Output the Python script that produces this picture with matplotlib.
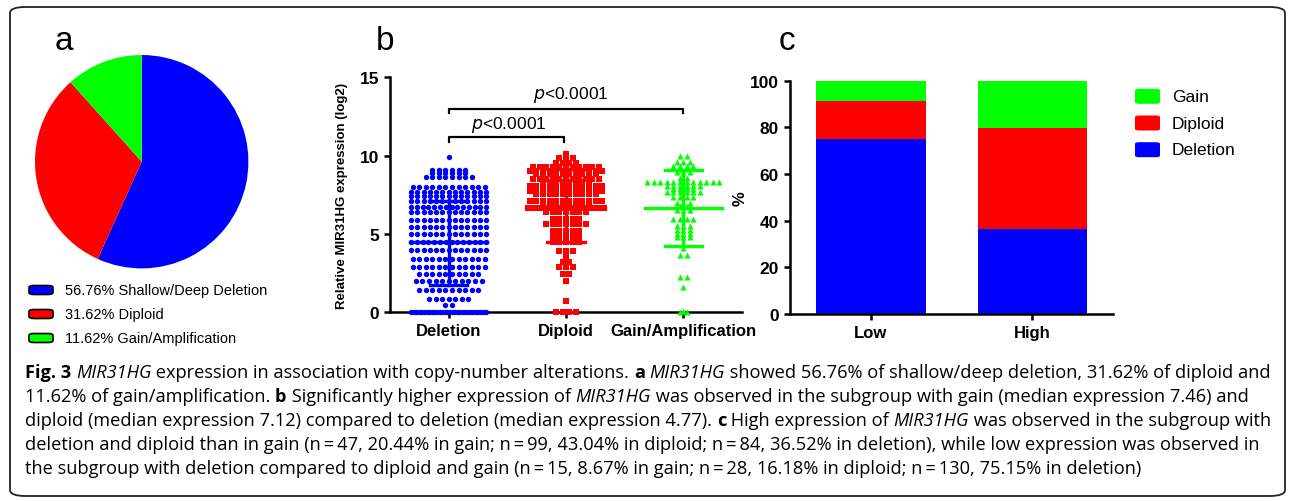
import numpy as np
import matplotlib.pyplot as plt
from matplotlib.patches import FancyBboxPatch

plt.rcParams['font.family'] = ['Liberation Sans', 'DejaVu Sans']

W, H = 1295, 502

# ---- panel a: copy-number share
pie_labels = ['56.76% Shallow/Deep Deletion', '31.62% Diploid', '11.62% Gain/Amplification']
pie_share = [56.76, 31.62, 11.62]

# ---- panel b: expression rows (value, number of dots)
groups = ['Deletion', 'Diploid', 'Gain/Amplification']
del_rows = [(9.94, 1), (9.1, 6), (8.9, 6), (8.62, 8), (8.0, 12), (7.7, 13), (7.4, 13),
            (7.13, 13), (6.72, 14), (6.4, 13), (5.9, 13), (5.45, 13), (5.0, 13),
            (4.5, 14), (3.95, 13), (3.4, 12), (2.9, 12), (2.45, 10), (2.0, 11),
            (1.45, 10), (0.88, 7), (0.47, 2), (0.0, 30)]
dip_rows = [(10.1, 1), (9.88, 3), (9.5, 4), (9.25, 11), (9.05, 12), (8.83, 10),
            (8.5, 11), (8.3, 8), (8.08, 12), (7.77, 12), (7.55, 10), (7.13, 12),
            (6.9, 8), (6.66, 14), (6.4, 7), (5.96, 5), (5.64, 7), (5.2, 5), (4.9, 5),
            (4.47, 5), (3.9, 3), (3.6, 1), (3.2, 2), (2.9, 3), (2.45, 2), (2.0, 1),
            (0.75, 1), (0.05, 4)]
gain_rows = [(9.96, 2), (9.57, 3), (9.36, 4), (9.15, 2), (8.94, 3), (8.6, 2), (8.3, 12),
             (8.08, 6), (7.9, 4), (7.66, 6), (7.34, 4), (7.0, 3), (6.8, 2), (6.55, 3),
             (5.95, 4), (5.53, 3), (5.25, 3), (5.0, 3), (4.78, 3), (4.08, 1), (3.66, 2),
             (2.23, 2), (1.6, 1), (0.1, 1), (0.0, 2)]
# lower quartile, median, upper quartile
del_q = (1.77, 4.47, 7.13)
dip_q = (4.47, 6.74, 9.15)
gain_q = (4.25, 6.68, 9.10)

# ---- panel c: percentages per expression level
levels = ['Low', 'High']
deletion_pct = [75.15, 36.52]
diploid_pct = [16.18, 43.04]
gain_pct = [8.67, 20.44]

BLUE, RED, GREEN = '#0000ff', '#ff0000', '#00ff00'


def box(l, t, r, b):
    return [l / W, 1 - b / H, (r - l) / W, (b - t) / H]


def swarm(rows, center, step=0.056, maxw=0.64):
    xs, ys = [], []
    for v, n in rows:
        s = step if n < 2 else min(step, maxw / (n - 1))
        xs.extend(center + (np.arange(n) - (n - 1) / 2) * s)
        ys.extend([v] * n)
    return np.array(xs), np.array(ys)


fig = plt.figure(figsize=(W / 100, H / 100), dpi=100)

# outer frame
fig.patches.append(FancyBboxPatch((10 / W, 1 - 497 / H), 1275 / W, 489 / H,
                                  boxstyle='round,pad=0,rounding_size=0.012',
                                  transform=fig.transFigure, fc='none',
                                  ec='#222222', lw=1.3))

# panel letters
for x, s in [(55, 'a'), (376, 'b'), (779, 'c')]:
    fig.text(x / W, 1 - 50 / H, s, fontsize=24, va='baseline')

# ---------- a
ax_a = fig.add_axes(box(35, 56, 248.4, 269.4))
ax_a.pie(pie_share, colors=[BLUE, RED, GREEN], startangle=90, counterclock=False,
         radius=1)
ax_a.set_xlim(-1, 1)
ax_a.set_ylim(-1, 1)
ax_a.set_aspect('auto')
for i, (lab, c) in enumerate(zip(pie_labels, [BLUE, RED, GREEN])):
    yc = 291 + 24 * i
    fig.patches.append(FancyBboxPatch((29 / W, 1 - (yc + 4.5) / H), 24 / W, 9 / H,
                                      boxstyle='round,pad=0,rounding_size=0.004',
                                      transform=fig.transFigure, fc=c, ec='black',
                                      lw=1.2))
    fig.text(65 / W, 1 - yc / H, lab, fontsize=10.5, va='center')

# ---------- b
ax_b = fig.add_axes(box(390, 78.3, 742, 313.3))
markers = ['o', 's', '^']
sizes = [15, 14, 19]
colors = [BLUE, RED, GREEN]
for i, (rows, q) in enumerate(zip([del_rows, dip_rows, gain_rows], [del_q, dip_q, gain_q])):
    xs, ys = swarm(rows, i)
    ax_b.scatter(xs, ys, marker=markers[i], s=sizes[i], color=colors[i],
                 linewidths=0, clip_on=False, zorder=3)
    ax_b.plot([i, i], [q[0], q[2]], color=colors[i], lw=2.4, zorder=4)
    ax_b.plot([i - 0.16, i + 0.16], [q[0]] * 2, color=colors[i], lw=2.4, zorder=4)
    ax_b.plot([i - 0.16, i + 0.16], [q[2]] * 2, color=colors[i], lw=2.4, zorder=4)
    ax_b.plot([i - 0.33, i + 0.33], [q[1]] * 2, color=colors[i], lw=2.4, zorder=4)

# significance brackets
ax_b.plot([0, 0, 2, 2], [12.72, 12.97, 12.97, 12.72], color='black', lw=1.6, clip_on=False)
ax_b.plot([0, 0, 0.98, 0.98], [10.85, 11.17, 11.17, 10.85], color='black', lw=1.6, clip_on=False)
ax_b.text(1.04, 13.94, r'$\it{p}$<0.0001', ha='center', va='center', fontsize=12.5)
ax_b.text(0.51, 12.0, r'$\it{p}$<0.0001', ha='center', va='center', fontsize=12.5)

ax_b.set_xlim(-0.5, 2.5)
ax_b.set_ylim(0, 15)
ax_b.set_yticks([0, 5, 10, 15])
ax_b.set_xticks(range(3))
ax_b.set_xticklabels(groups, fontsize=10.5, fontweight='bold')
ax_b.set_ylabel('Relative MIR31HG expression (log2)', fontsize=9.5, fontweight='bold')
ax_b.yaxis.set_label_coords((348 - 390) / 352, 0.5)

# ---------- c
ax_c = fig.add_axes(box(790, 81.7, 1113.3, 315))
xc = np.arange(len(levels))
ax_c.bar(xc, deletion_pct, width=0.68, color=BLUE)
ax_c.bar(xc, diploid_pct, width=0.68, bottom=deletion_pct, color=RED)
ax_c.bar(xc, gain_pct, width=0.68, bottom=np.add(deletion_pct, diploid_pct), color=GREEN)
ax_c.set_xlim(-0.5, 1.5)
ax_c.set_ylim(0, 100)
ax_c.set_yticks(range(0, 101, 20))
ax_c.set_xticks(xc)
ax_c.set_xticklabels(levels, fontsize=11.5, fontweight='bold')
ax_c.set_ylabel('%', fontsize=12, fontweight='bold')
ax_c.yaxis.set_label_coords((748 - 790) / 323.3, 0.5)

for i, (lab, c) in enumerate([('Gain', GREEN), ('Diploid', RED), ('Deletion', BLUE)]):
    yc = 97.3 + 26.7 * i
    fig.patches.append(FancyBboxPatch((1135 / W, 1 - (yc + 7.5) / H), 25 / W, 15 / H,
                                      boxstyle='round,pad=0,rounding_size=0.003',
                                      transform=fig.transFigure, fc=c, ec='none'))
    fig.text(1172 / W, 1 - yc / H, lab, fontsize=12.5, va='center')

for ax in (ax_b, ax_c):
    for side in ('top', 'right'):
        ax.spines[side].set_visible(False)
    for side in ('left', 'bottom'):
        ax.spines[side].set_linewidth(1.8)
    ax.tick_params(width=1.8, length=4.5, labelsize=12, direction='out')
    for t in ax.get_yticklabels():
        t.set_fontweight('bold')
        t.set_fontsize(12.5)

# ---------- caption
cap_lines = [
    [('Fig. 3', 'bold'), (' ', 'normal'), ('MIR31HG', 'italic'),
     (' expression in association with copy-number alterations. ', 'normal'), ('a', 'bold'),
     (' ', 'normal'), ('MIR31HG', 'italic'),
     (' showed 56.76% of shallow/deep deletion, 31.62% of diploid and', 'normal')],
    [('11.62% of gain/amplification. ', 'normal'), ('b', 'bold'),
     (' Significantly higher expression of ', 'normal'), ('MIR31HG', 'italic'),
     (' was observed in the subgroup with gain (median expression 7.46) and', 'normal')],
    [('diploid (median expression 7.12) compared to deletion (median expression 4.77). ', 'normal'),
     ('c', 'bold'), (' High expression of ', 'normal'), ('MIR31HG', 'italic'),
     (' was observed in the subgroup with', 'normal')],
    [('deletion and diploid than in gain (n\u2009=\u200947, 20.44% in gain; n\u2009=\u200999, 43.04% in diploid; '
      'n\u2009=\u200984, 36.52% in deletion), while low expression was observed in', 'normal')],
    [('the subgroup with deletion compared to diploid and gain (n\u2009=\u200915, 8.67% in gain; '
      'n\u2009=\u200928, 16.18% in diploid; n\u2009=\u2009130, 75.15% in deletion)', 'normal')],
]
cap_font = ['Open Sans', 'DejaVu Sans']
renderer = fig.canvas.get_renderer()


def seg_width(s, style, size):
    kw = dict(fontsize=size, family=cap_font)
    if style == 'bold':
        kw['fontweight'] = 'bold'
    if style == 'italic':
        kw['fontstyle'] = 'italic'
    t1 = fig.text(0, 0, s + 'l', **kw)
    t2 = fig.text(0, 0, 'l', **kw)
    w = t1.get_window_extent(renderer).width - t2.get_window_extent(renderer).width
    t1.remove()
    t2.remove()
    return w, kw


# fit font size so the first line spans the same width as in the figure
base = 10
w0 = sum(seg_width(s, st, base)[0] for s, st in cap_lines[0])
cap_size = base * 1250 / w0

for li, line in enumerate(cap_lines):
    x = 25
    y = 373 + 24 * li
    for s, st in line:
        w, kw = seg_width(s, st, cap_size)
        fig.text(x / W, 1 - y / H, s, va='center', **kw)
        x += w

fig.savefig('out.png', dpi=100)
